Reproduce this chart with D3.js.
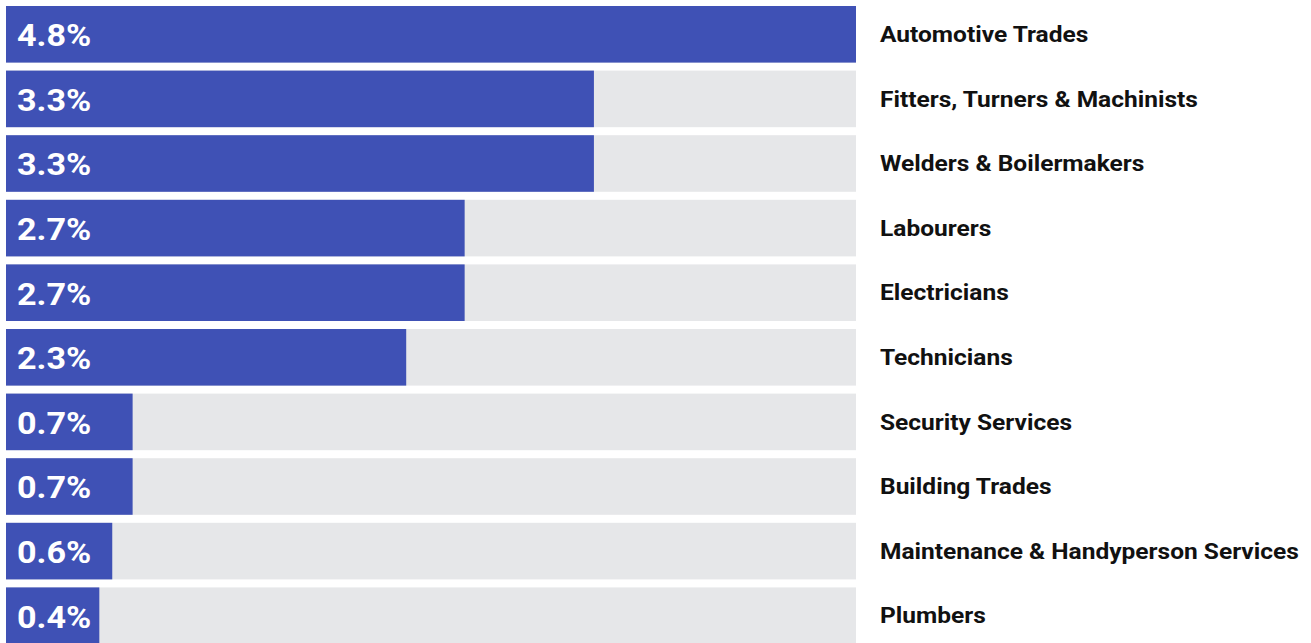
<!DOCTYPE html>
<html>
<head>
<meta charset="utf-8">
<script src="https://cdn.jsdelivr.net/npm/d3@7"></script>
<style>
  body { margin: 0; background: #fff; }
  text { font-family: Roboto, "Noto Sans", sans-serif; }
</style>
</head>
<body>
<div class="container"></div>
<script>
// categories, top to bottom
var trades = ["Automotive Trades", "Fitters, Turners & Machinists", "Welders & Boilermakers",
  "Labourers", "Electricians", "Technicians", "Security Services", "Building Trades",
  "Maintenance & Handyperson Services", "Plumbers"];
// bar lengths (percent)
var shares = [4.8, 3.32, 3.32, 2.59, 2.59, 2.26, 0.715, 0.715, 0.6, 0.527];
// printed labels
var shareLabels = ["4.8%", "3.3%", "3.3%", "2.7%", "2.7%", "2.3%", "0.7%", "0.7%", "0.6%", "0.4%"];

var width = 1311;
var height = 643;

var svg = d3.select(".container")
  .append("svg")
  .attr("width", width)
  .attr("height", height);

var x = d3.scaleLinear()
  .domain([0, 4.8])
  .range([6, 856]);

var y = d3.scaleBand()
  .domain(trades)
  .range([6, 644])
  .paddingInner(0.124)
  .paddingOuter(0);

var rows = svg.selectAll("g.row")
  .data(trades)
  .enter().append("g")
  .attr("class", "row");

// grey track behind each bar
rows.append("rect")
  .attr("x", x(0))
  .attr("y", function(d) { return y(d); })
  .attr("width", x(4.8) - x(0))
  .attr("height", y.bandwidth())
  .style("fill", "#e6e7e9");

rows.append("rect")
  .attr("x", x(0))
  .attr("y", function(d) { return y(d); })
  .attr("width", function(d, i) { return x(shares[i]) - x(0); })
  .attr("height", y.bandwidth())
  .style("fill", "#3f51b5");

// value labels inside bars (the source type is a bit wider than Roboto)
rows.append("text")
  .attr("transform", function(d) {
    return "translate(" + (x(0) + 11) + "," + (y(d) + y.bandwidth() / 2 + 1) + ") scale(1.1,1)";
  })
  .attr("dy", ".35em")
  .style("fill", "white")
  .style("font-size", "31px")
  .style("font-weight", "bold")
  .text(function(d, i) { return shareLabels[i]; });

// category names to the right
rows.append("text")
  .attr("transform", function(d) {
    return "translate(880," + (y(d) + y.bandwidth() / 2) + ") scale(1.115,1)";
  })
  .attr("dy", ".35em")
  .style("fill", "#111")
  .style("font-size", "22px")
  .style("font-weight", "bold")
  .text(function(d) { return d; });
</script>
</body>
</html>
